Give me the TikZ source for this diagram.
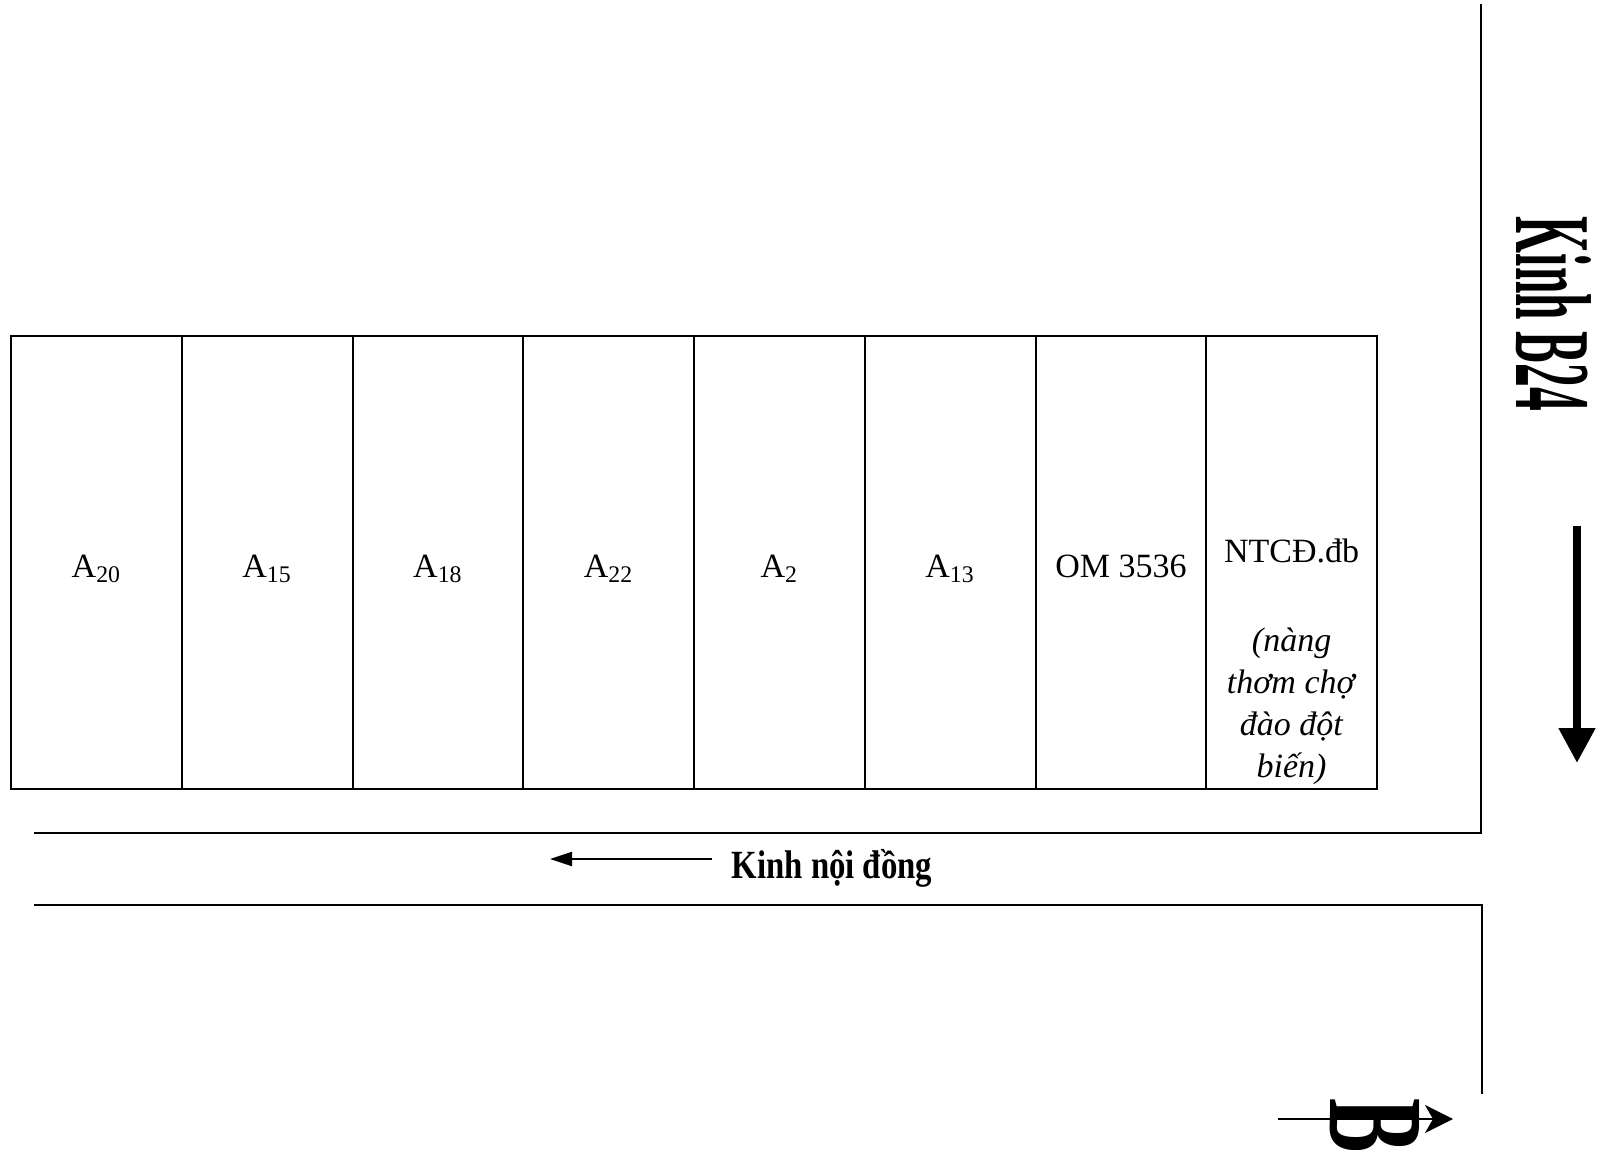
\documentclass[tikz,border=0pt]{standalone}
\usepackage{fontspec}
\setmainfont{Liberation Serif}
\usepackage{tikz}
\usetikzlibrary{arrows.meta}

\begin{document}
\begin{tikzpicture}[
    x=0.5pt, y=-0.5pt,
    plot/.style={rectangle, draw, line width=1pt, minimum width=85.4pt, minimum height=226.5pt, inner sep=0pt, font=\fontsize{17}{21}\selectfont, text height=16.5pt, text depth=2pt},
    bank/.style={line width=1.2pt},
    flow/.style={-{Triangle[length=11pt, width=7pt]}, line width=1pt}
]
    \useasboundingbox (0,0) rectangle (1614,1150);
    \clip (0,0) rectangle (1614,1150);

    % Plots
    \node[plot] (a20) at (96.4,562.5) {A\textsubscript{20}};
    \node[plot] (a15) at (267.1,562.5) {A\textsubscript{15}};
    \node[plot] (a18) at (437.9,562.5) {A\textsubscript{18}};
    \node[plot] (a22) at (608.6,562.5) {A\textsubscript{22}};
    \node[plot] (a2) at (779.4,562.5) {A\textsubscript{2}};
    \node[plot] (a13) at (950.1,562.5) {A\textsubscript{13}};
    \node[plot] (om) at (1120.9,562.5) {OM 3536};
    \node[plot] (ntcd) at (1291.6,562.5) {};
    \node[align=center, anchor=base, inner sep=0pt, font=\fontsize{17}{21}\selectfont] (ntcdlabel) at (1291.6,777) {NTCĐ.đb\\[23.5pt]\textit{(nàng}\\\textit{thơm chợ}\\\textit{đào đột}\\\textit{biến)}};

    % Canals
    \coordinate (b24top) at (1481,4);
    \coordinate (b24corner) at (1481,833);
    \coordinate (kndend) at (34,833);
    \draw[bank] (b24top) -- (b24corner) -- (kndend);
    \coordinate (kndlow) at (34,905);
    \coordinate (lowcorner) at (1482,905);
    \coordinate (lowend) at (1482,1094);
    \draw[bank] (kndlow) -- (lowcorner) -- (lowend);

    % Kinh noi dong
    \node[font=\bfseries\fontsize{20}{24}\selectfont, inner sep=0pt, anchor=base] (knd) at (832,878) {\scalebox{0.82}[1]{Kinh nội đồng}};
    \coordinate (kndtail) at (712,859);
    \coordinate (kndtip) at (550,859);
    \draw[flow] (kndtail) -- (kndtip);

    % Kinh B24
    \node[font=\bfseries\fontsize{54}{60}\selectfont, rotate=-90, inner sep=0pt, anchor=base] (b24) at (1516,314) {\scalebox{0.44}[1]{Kinh B24}};
    \coordinate (b24tail) at (1577,526);
    \coordinate (b24tip) at (1577,763);
    \draw[-{Triangle[length=17.5pt, width=17.5pt]}, line width=4pt] (b24tail) -- (b24tip);

    % B
    \node[font=\bfseries\fontsize{68}{72}\selectfont, rotate=-90, inner sep=0pt, anchor=base west] (bac) at (1330,1098) {\scalebox{0.6}[1]{B}};
    \coordinate (bactail) at (1278,1119);
    \coordinate (bactip) at (1453,1119);
    \draw[-{Stealth[length=14pt, width=14pt, inset=4pt]}, line width=1pt] (bactail) -- (bactip);
\end{tikzpicture}
\end{document}
